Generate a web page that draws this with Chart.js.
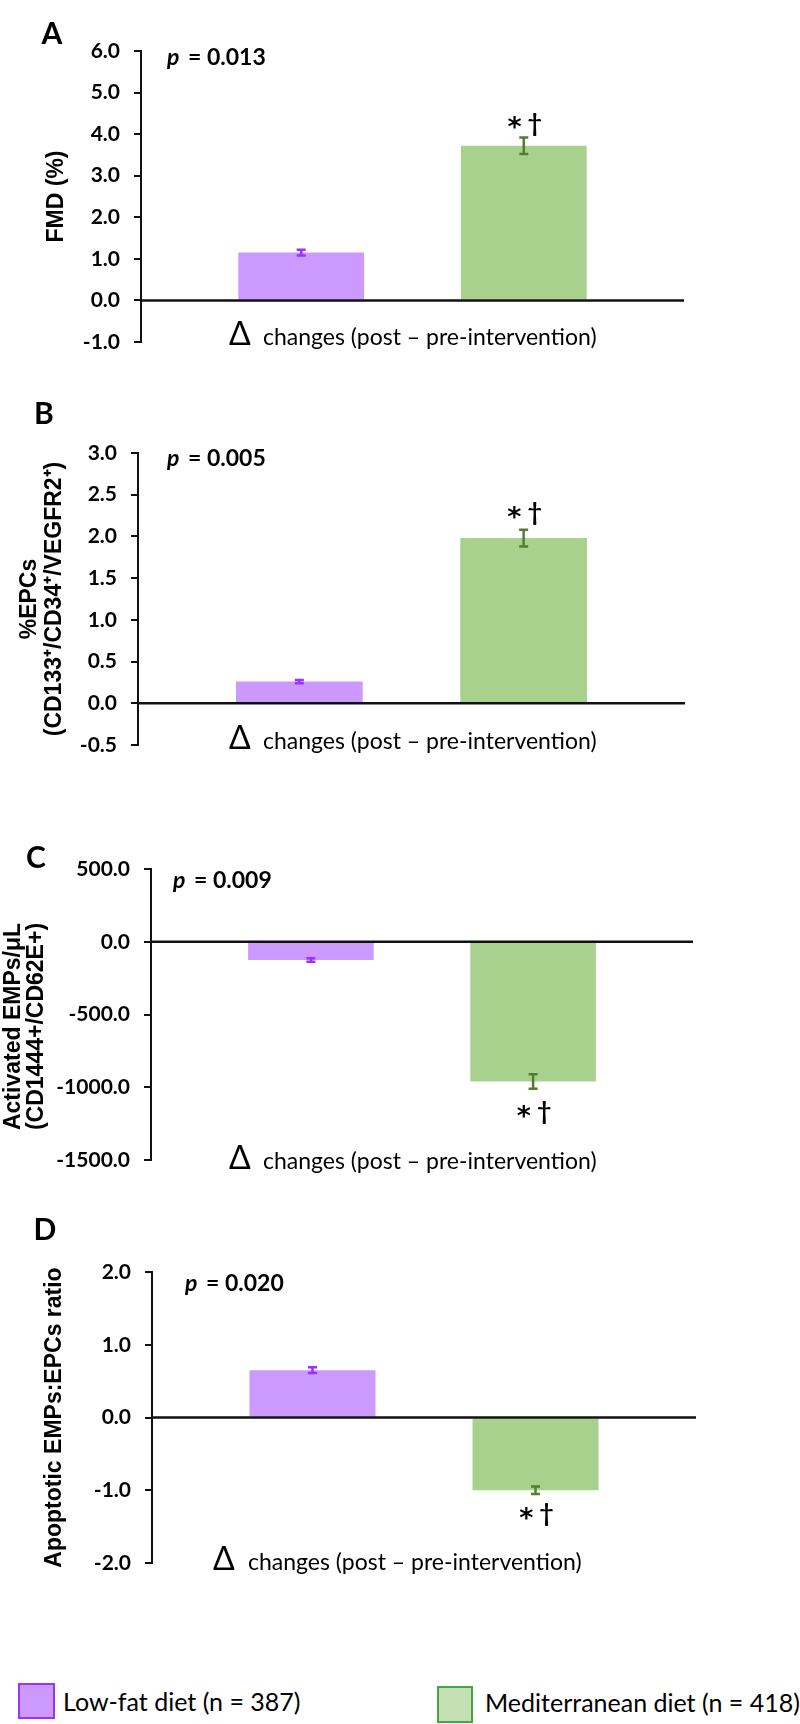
<!DOCTYPE html>
<html>
<head>
<meta charset="utf-8">
<script src="https://cdn.jsdelivr.net/npm/chart.js@4.4.0/dist/chart.umd.min.js"></script>
<style>
  body { margin: 0; background: #fff; width: 800px; height: 1724px; position: relative; overflow: hidden; }
  .panel { position: absolute; left: 0; width: 800px; }
  .legend-box { position: absolute; box-sizing: border-box; border: 2px solid; }
  .legend-text { position: absolute; font: 25px Lato, "Open Sans", sans-serif; line-height: 30px; color: #000; white-space: nowrap; }
</style>
</head>
<body>
<div class="panel" style="top:0;height:380px"><canvas id="chartA"></canvas></div>
<div class="panel" style="top:380px;height:400px"><canvas id="chartB"></canvas></div>
<div class="panel" style="top:780px;height:420px"><canvas id="chartC"></canvas></div>
<div class="panel" style="top:1200px;height:420px"><canvas id="chartD"></canvas></div>

<div class="legend-box" style="left:18px;top:1683px;width:37px;height:36px;background:#cc99ff;border-color:#9933ff"></div>
<div class="legend-text" style="left:63px;top:1686px">Low-fat diet (n = 387)</div>
<div class="legend-box" style="left:437px;top:1686px;width:36px;height:37px;background:#c5e0b4;border-color:#46a546"></div>
<div class="legend-text" style="left:485px;top:1687px">Mediterranean diet (n = 418)</div>

<script>
const groups = ["Low-fat diet (n = 387)", "Mediterranean diet (n = 418)"];

// A: FMD (%)
const fmdMeans = [1.15, 3.72];
const fmdErrors = [0.07, 0.20];
// B: %EPCs
const epcMeans = [0.26, 1.98];
const epcErrors = [0.02, 0.10];
// C: activated EMPs/uL
const empMeans = [-125, -960];
const empErrors = [12, 50];
// D: apoptotic EMPs:EPCs ratio
const ratioMeans = [0.65, -1.00];
const ratioErrors = [0.04, 0.05];

const pValues = ["0.013", "0.005", "0.009", "0.020"];
const deltaText = "changes (post \u2013 pre-intervention)";

const CAL = 'Lato, "Open Sans", sans-serif';
const ARIAL = '"Liberation Sans", Arial, sans-serif';
const STAR = '"DejaVu Sans", sans-serif';

const barFill = ["#cc99ff", "#a9d18e"];
const errColor = ["#9933ff", "#4f7f2f"];

// "* †" drawn as two glyphs so the asterisk sits level with the dagger
function drawStars(ctx, cx, cy) {
    ctx.font = "bold 27px " + STAR;
    const wa = ctx.measureText("*").width;
    ctx.font = "bold 25px " + CAL;
    const wd = ctx.measureText("\u2020").width;
    const gap = 6;
    const x = cx - (wa + gap + wd) / 2;
    ctx.textAlign = "left";
    ctx.textBaseline = "middle";
    ctx.font = "bold 27px " + STAR;
    ctx.fillText("*", x, cy + 6);
    ctx.font = "bold 25px " + CAL;
    ctx.fillText("\u2020", x + wa + gap, cy);
}

const decor = {
    id: "decor",
    afterDatasetsDraw(chart, args, o) {
        const { ctx, chartArea: a } = chart;
        const y = chart.scales.y;
        ctx.save();

        // zero line
        const y0 = y.getPixelForValue(0);
        ctx.strokeStyle = "#111";
        ctx.lineWidth = 2.5;
        ctx.beginPath();
        ctx.moveTo(a.left, y0);
        ctx.lineTo(a.right, y0);
        ctx.stroke();

        // error bars + significance marks
        chart.data.datasets.forEach((ds, i) => {
            const bar = chart.getDatasetMeta(i).data[0];
            const v = ds.data[0], e = ds.errors[0];
            const hi = y.getPixelForValue(v + e), lo = y.getPixelForValue(v - e);
            ctx.strokeStyle = errColor[i];
            ctx.lineWidth = 2.5;
            ctx.beginPath();
            ctx.moveTo(bar.x, hi); ctx.lineTo(bar.x, lo);
            ctx.moveTo(bar.x - 4.5, hi); ctx.lineTo(bar.x + 4.5, hi);
            ctx.moveTo(bar.x - 4.5, lo); ctx.lineTo(bar.x + 4.5, lo);
            ctx.stroke();
            if (i === 1) {
                ctx.fillStyle = "#000";
                drawStars(ctx, bar.x + 1, v > 0 ? hi - o.starGap : lo + o.starGap);
            }
        });

        // panel letter
        ctx.fillStyle = "#000";
        ctx.textAlign = "center";
        ctx.textBaseline = "middle";
        ctx.font = "bold 30px " + CAL;
        ctx.fillText(o.letter, o.letterX, o.letterY);

        // p value
        ctx.textAlign = "left";
        ctx.font = "italic bold 23px " + CAL;
        ctx.fillText("p", o.pX, o.pY);
        const pw = ctx.measureText("p").width;
        ctx.font = "bold 23px " + CAL;
        ctx.fillText(" = " + o.p, o.pX + pw + 3, o.pY);

        // delta label
        ctx.font = "32px " + CAL;
        ctx.fillText("\u0394", o.deltaX, o.deltaY - 1);
        ctx.font = "23px " + CAL;
        ctx.fillText(deltaText, o.textX, o.deltaY + 2);

        // y title
        ctx.font = "bold 23px " + ARIAL;
        const cy = (a.top + a.bottom) / 2 + (o.titleShift || 0);
        o.title.forEach((line, k) => {
            ctx.save();
            ctx.translate(o.titleX[k], cy);
            ctx.rotate(-Math.PI / 2);
            ctx.textAlign = "center";
            ctx.fillText(line, 0, 0);
            ctx.restore();
        });
        ctx.restore();
    }
};

function makePanel(id, means, errors, yMin, yMax, yStep, area, canvasH, deco) {
    return new Chart(document.getElementById(id), {
        type: "bar",
        data: {
            labels: [""],
            datasets: groups.map((g, i) => ({
                label: g,
                data: [means[i]],
                errors: [errors[i]],
                backgroundColor: barFill[i],
                borderWidth: 0,
                categoryPercentage: 0.82,
                barPercentage: 0.565
            }))
        },
        options: {
            responsive: true,
            maintainAspectRatio: false,
            animation: false,
            layout: {
                autoPadding: false,
                padding: { left: 0, top: area.top, right: 800 - area.right, bottom: canvasH - area.bottom }
            },
            plugins: {
                legend: { display: false },
                tooltip: { enabled: false },
                decor: deco
            },
            scales: {
                x: { display: false },
                y: {
                    min: yMin,
                    max: yMax,
                    afterFit: s => { s.width = area.left; },
                    border: { display: true, color: "#111", width: 2 },
                    grid: { drawOnChartArea: false, drawTicks: true, tickLength: 7, color: "#111", lineWidth: 2 },
                    ticks: {
                        stepSize: yStep,
                        padding: 14,
                        color: "#000",
                        font: { family: CAL, size: 21, weight: "bold" },
                        callback: v => v.toFixed(1)
                    }
                }
            }
        },
        plugins: [decor]
    });
}

makePanel("chartA", fmdMeans, fmdErrors, -1, 6, 1,
    { left: 141, right: 684, top: 51, bottom: 342 }, 380,
    { letter: "A", letterX: 52, letterY: 34, p: pValues[0], pX: 167, pY: 58,
      starGap: 14, deltaX: 229, textX: 263, deltaY: 336,
      title: ["FMD (%)"], titleX: [57] });

makePanel("chartB", epcMeans, epcErrors, -0.5, 3, 0.5,
    { left: 138, right: 685, top: 73, bottom: 365 }, 400,
    { letter: "B", letterX: 44, letterY: 34, p: pValues[1], pX: 167, pY: 79,
      starGap: 17, deltaX: 229, textX: 263, deltaY: 360,
      title: ["%EPCs", "(CD133\u207A/CD34\u207A/VEGFR2\u207A)"], titleX: [30, 55] });

makePanel("chartC", empMeans, empErrors, -1500, 500, 500,
    { left: 151, right: 693, top: 89, bottom: 380 }, 420,
    { letter: "C", letterX: 36, letterY: 78, p: pValues[2], pX: 173, pY: 101,
      starGap: 23, deltaX: 229, textX: 263, deltaY: 380,
      title: ["Activated EMPs/\u03BCL", "(CD1444+/CD62E+)"], titleX: [14, 37], titleShift: 12 });

makePanel("chartD", ratioMeans, ratioErrors, -2, 2, 1,
    { left: 152, right: 696, top: 72, bottom: 363 }, 420,
    { letter: "D", letterX: 45, letterY: 30, p: pValues[3], pX: 185, pY: 84,
      starGap: 20, deltaX: 213, textX: 248, deltaY: 361,
      title: ["Apoptotic EMPs:EPCs ratio"], titleX: [55] });
</script>
</body>
</html>
